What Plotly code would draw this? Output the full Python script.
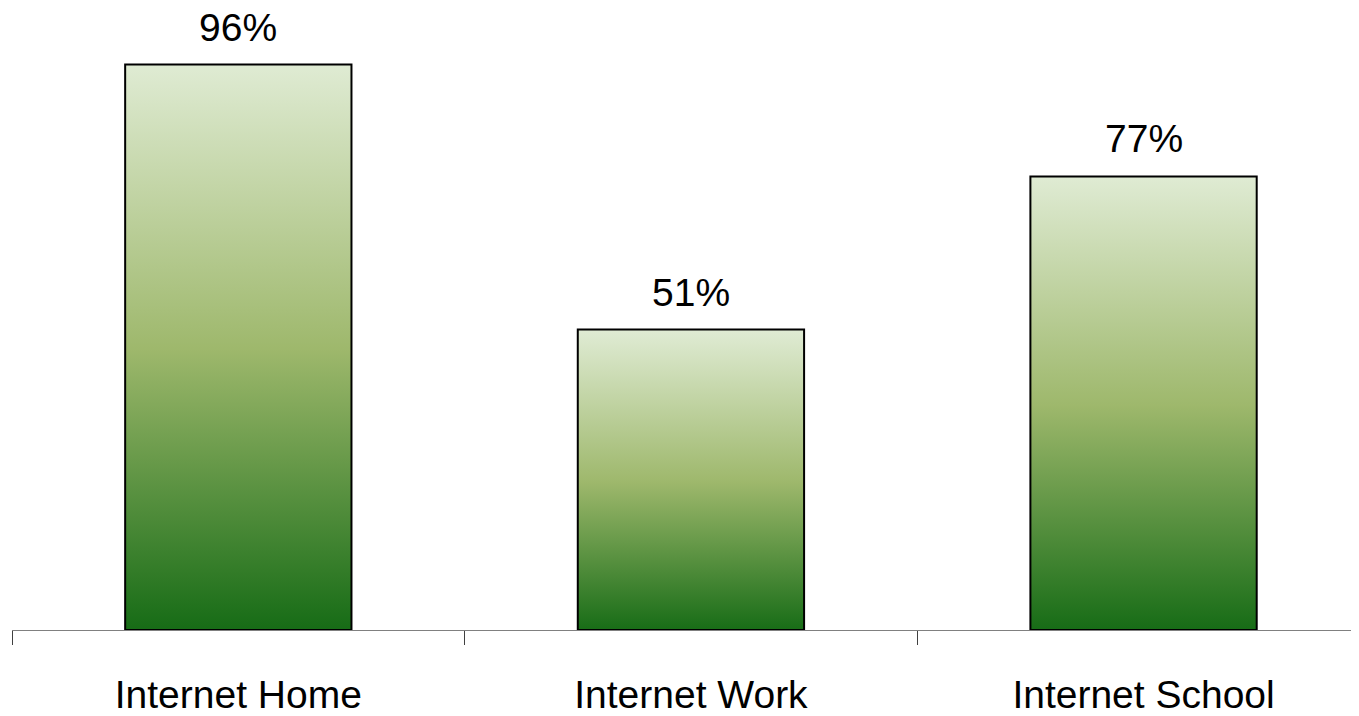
import plotly.graph_objects as go

# # Data
categories = ['Internet Home', 'Internet Work', 'Internet School']
values = [96, 51, 77]

# # Gradient colours (bottom -> top)
gradient = [[0.0, '#156b15'], [0.5, '#9eb86c'], [1.0, '#dfebd3']]

fig = go.Figure()

bar_half = 0.25
for i, v in enumerate(values):
    # each bar is a filled polygon so that it can carry a vertical gradient
    fig.add_trace(go.Scatter(
        x=[i - bar_half, i + bar_half, i + bar_half, i - bar_half, i - bar_half],
        y=[0, 0, v, v, 0],
        mode='lines',
        fill='toself',
        fillgradient=dict(type='vertical', colorscale=gradient, start=0, stop=v),
        line=dict(color='black', width=2),
        hoverinfo='skip',
        showlegend=False,
    ))

# Percent labels above the bars
for i, v in enumerate(values):
    fig.add_annotation(x=i, y=v, text=f'{v}%', showarrow=False,
                       yanchor='bottom', yshift=14,
                       font=dict(size=39, color='black'))

boundaries = [i - 0.5 for i in range(len(categories) + 1)]

# page body has an 8px margin, so size/offsets are compensated for it
fig.update_layout(
    width=1351, height=708,
    margin=dict(l=4, r=0, t=0, b=83),
    plot_bgcolor='white',
    paper_bgcolor='white',
    font=dict(family='Liberation Sans, Arial, sans-serif', color='black'),
    showlegend=False,
)
fig.update_xaxes(
    range=[-0.5, 2.476],
    tickmode='array',
    tickvals=list(range(len(categories))),
    ticktext=categories,
    ticks='',
    ticklabelstandoff=30,
    tickfont=dict(size=39, color='black'),
    showgrid=False, zeroline=False,
    showline=True, linecolor='#808080', linewidth=1,
    minor=dict(tickmode='array', tickvals=boundaries, ticks='outside',
               ticklen=14, tickcolor='#404040', tickwidth=1, showgrid=False),
)
fig.update_yaxes(range=[0, 105.6], visible=False, showgrid=False, zeroline=False)

fig.write_html('out.html')
